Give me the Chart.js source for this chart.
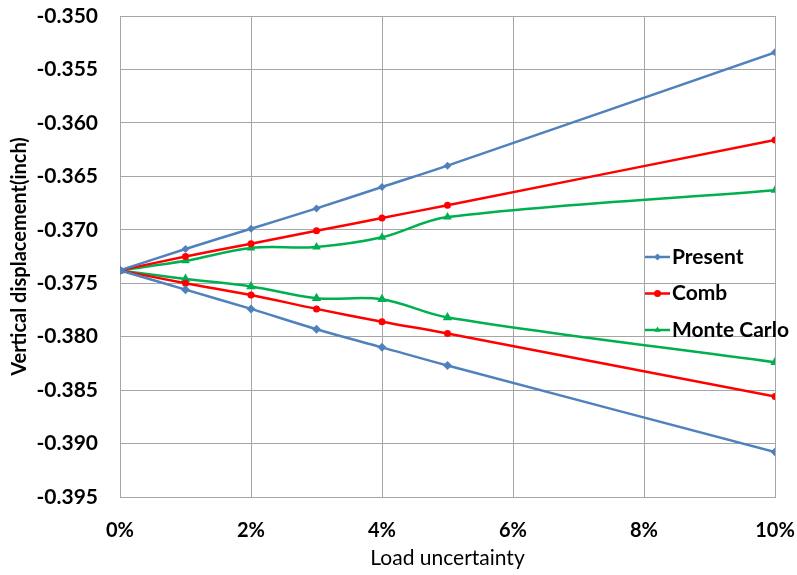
<!DOCTYPE html>
<html>
<head>
<meta charset="utf-8">
<script src="https://cdn.jsdelivr.net/npm/chart.js@4/dist/chart.umd.min.js"></script>
<style>
  html, body { margin: 0; padding: 0; background: #fff; }
  #wrap { width: 797px; height: 575px; }
</style>
</head>
<body>
<div id="wrap"><canvas id="c" width="797" height="575"></canvas></div>
<script>
// load uncertainty in percent
const loadPct = [0, 1, 2, 3, 4, 5, 10];

const presentUpper = [-0.3738, -0.3718, -0.3699, -0.3680, -0.3660, -0.3640, -0.3534];
const presentLower = [-0.3738, -0.3756, -0.3774, -0.3793, -0.3810, -0.3827, -0.3908];
const combUpper = [-0.3738, -0.3725, -0.3713, -0.3701, -0.3689, -0.3677, -0.3616];
const combLower = [-0.3738, -0.3750, -0.3761, -0.3774, -0.3786, -0.3797, -0.3856];
const monteUpper = [-0.3738, -0.3729, -0.3717, -0.3716, -0.3707, -0.3688, -0.3663];
const monteLower = [-0.3738, -0.3746, -0.3753, -0.3764, -0.3765, -0.3782, -0.3824];

const FONT = 'Lato, "Open Sans", sans-serif';
const BLUE = '#4F81BD', RED = '#FF0000', GREEN = '#00B050';

function pts(ys) {
  return loadPct.map((x, i) => ({ x: x, y: ys[i] }));
}

function series(label, ys, color, style, radius, inLegend) {
  return {
    label: label,
    data: pts(ys),
    borderColor: color,
    backgroundColor: color,
    borderWidth: 2.5,
    pointStyle: style,
    pointRadius: radius,
    pointBorderWidth: 0,
    tension: 0.35,
    showInLegend: inLegend
  };
}

const datasets = [
  series('Present', presentUpper, BLUE, 'rectRot', 4, true),
  series('Present', presentLower, BLUE, 'rectRot', 4.5, false),
  series('Comb', combUpper, RED, 'circle', 3.5, true),
  series('Comb', combLower, RED, 'circle', 3.5, false),
  series('Monte Carlo', monteUpper, GREEN, 'triangle', 5, true),
  series('Monte Carlo', monteLower, GREEN, 'triangle', 5.5, false)
];

// legend floating over the right side of the plot
const floatLegend = {
  id: 'floatLegend',
  afterDraw: chart => {
    const ctx = chart.ctx;
    const items = chart.data.datasets.filter(d => d.showInLegend);
    ctx.save();
    ctx.font = 'bold 21px ' + FONT;
    ctx.textBaseline = 'middle';
    items.forEach((d, i) => {
      const y = 257 + i * 36.5;
      ctx.strokeStyle = d.borderColor;
      ctx.lineWidth = 2.5;
      ctx.beginPath();
      ctx.moveTo(645, y);
      ctx.lineTo(670, y);
      ctx.stroke();
      ctx.fillStyle = d.borderColor;
      Chart.helpers.drawPoint(ctx, { pointStyle: d.pointStyle, radius: 3.5, rotation: 0, borderWidth: 0 }, 657.5, y);
      ctx.fillStyle = '#000';
      ctx.fillText(d.label, 672, y);
    });
    ctx.restore();
  }
};

new Chart(document.getElementById('c').getContext('2d'), {
  type: 'line',
  data: { datasets: datasets },
  options: {
    responsive: false,
    animation: false,
    layout: { padding: { top: 16, right: 22, left: 0, bottom: 0 } },
    scales: {
      x: {
        type: 'linear',
        min: 0,
        max: 10,
        ticks: {
          stepSize: 2,
          color: '#000',
          font: { family: FONT, size: 20, weight: 'bold' },
          padding: 22,
          callback: v => v + '%'
        },
        grid: { color: '#A6A6A6', lineWidth: 1, drawTicks: false },
        border: { color: '#A6A6A6' },
        title: {
          display: true,
          text: 'Load uncertainty',
          color: '#000',
          font: { family: FONT, size: 21, weight: 'normal' },
          padding: { top: 4 }
        },
        afterFit: s => { s.height = 78; s.paddingLeft = 0; s.paddingRight = 0; }
      },
      y: {
        min: -0.395,
        max: -0.350,
        ticks: {
          stepSize: 0.005,
          color: '#000',
          font: { family: FONT, size: 21, weight: 'bold' },
          padding: 22,
          callback: v => v.toFixed(3)
        },
        grid: { color: '#A6A6A6', lineWidth: 1, drawTicks: false },
        border: { color: '#A6A6A6' },
        title: {
          display: true,
          text: 'Vertical displacement(inch)',
          color: '#000',
          font: { family: FONT, size: 20, weight: 'bold' },
          padding: { top: 8, bottom: 0 }
        },
        afterFit: s => { s.width = 120; s.paddingTop = 0; s.paddingBottom = 0; }
      }
    },
    plugins: {
      legend: { display: false },
      tooltip: { enabled: false }
    }
  },
  plugins: [floatLegend]
});
</script>
</body>
</html>
